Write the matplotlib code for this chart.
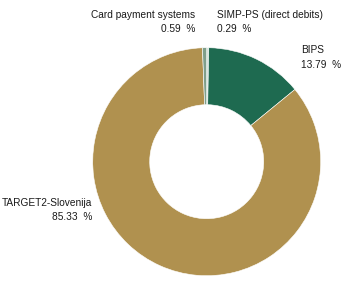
import matplotlib
matplotlib.use("Agg")
import matplotlib.pyplot as plt

categories = ["SIMP-PS (direct debits)", "BIPS", "TARGET2-Slovenija", "Card payment systems"]
values = [0.29, 13.79, 85.33, 0.59]
value_labels = ["0.29  %", "13.79  %", "85.33  %", "0.59  %"]
colors = ["#d9e6df", "#1e6a50", "#b0914f", "#7f9f8b"]

plt.rcParams['font.family'] = ['Liberation Sans', 'DejaVu Sans']

W, H = 350, 289
fig = plt.figure(figsize=(W / 100, H / 100), dpi=100)
cx, cy, r = 206.7, 161.7, 114.0
ax = fig.add_axes([(cx - r) / W, 1 - (cy + r) / H, 2 * r / W, 2 * r / H])
ax.pie(values, colors=colors, startangle=90, counterclock=False, radius=1.0,
       wedgeprops=dict(width=0.5, edgecolor="white", linewidth=0.4))
ax.set_xlim(-1, 1)
ax.set_ylim(-1, 1)
ax.set_aspect('equal')
ax.axis('off')

fs = 7.3
# label placements (pixel positions of text anchors)
pos = {
    "SIMP-PS (direct debits)": (217.3, 17.5, 'left'),
    "BIPS": (300.7, 53, 'left'),
    "TARGET2-Slovenija": (92, 206, 'right'),
    "Card payment systems": (195, 17.5, 'right'),
}
for cat, vl in zip(categories, value_labels):
    x, y, ha = pos[cat]
    fig.text(x / W, 1 - y / H, cat, ha=ha, va='baseline', fontsize=fs, color='#1a1a1a')
    fig.text(x / W, 1 - (y + 14.5) / H, vl, ha=ha, va='baseline', fontsize=fs, color='#1a1a1a')

fig.savefig("out.png", dpi=100, facecolor='white')
